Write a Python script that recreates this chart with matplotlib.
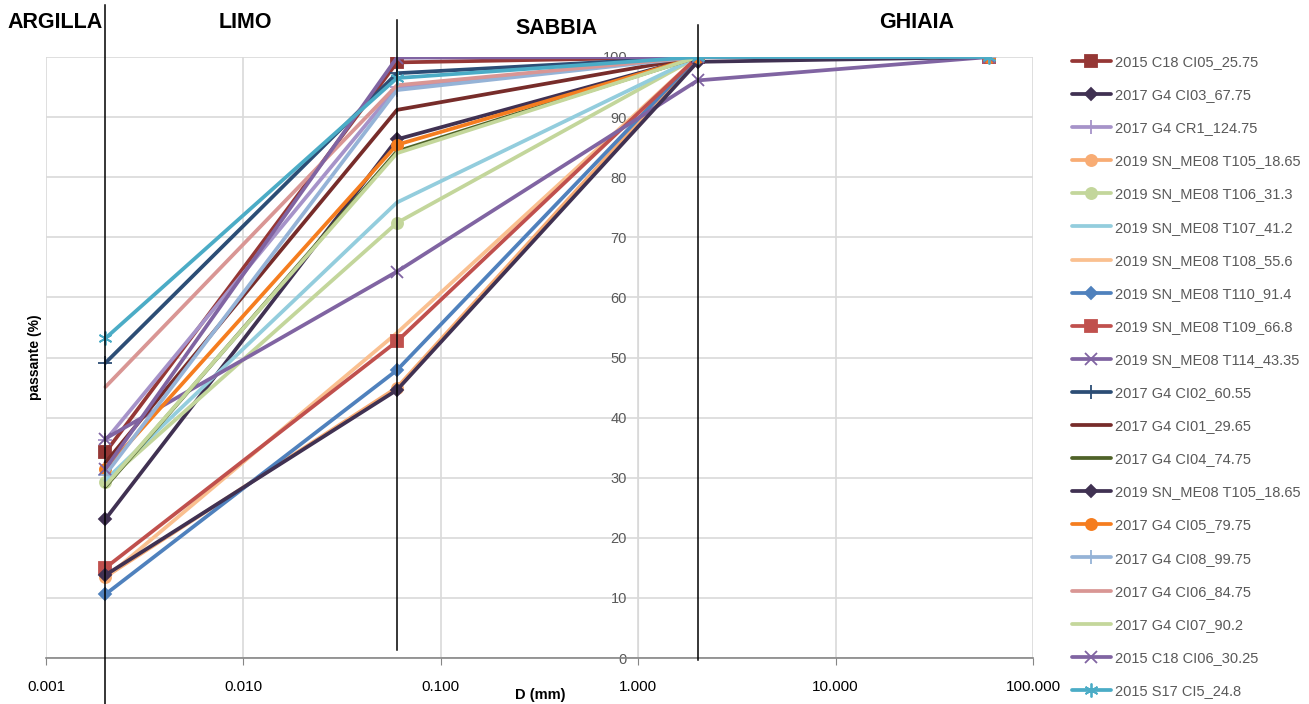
import matplotlib
matplotlib.use('Agg')
import matplotlib.pyplot as plt
import matplotlib.transforms as mtransforms

plt.rcParams['font.family'] = ['Liberation Sans', 'DejaVu Sans']

# grain sizes (mm) at which passing % was measured
diam = [0.002, 0.06, 2, 60]
# class boundaries argilla/limo/sabbia/ghiaia
limits = [0.002, 0.06, 2]

names = ['2015 C18 CI05_25.75', '2017 G4 CI03_67.75', '2017 G4 CR1_124.75',
         '2019 SN_ME08 T105_18.65', '2019 SN_ME08 T106_31.3', '2019 SN_ME08 T107_41.2',
         '2019 SN_ME08 T108_55.6', '2019 SN_ME08 T110_91.4', '2019 SN_ME08 T109_66.8',
         '2019 SN_ME08 T114_43.35', '2017 G4 CI02_60.55', '2017 G4 CI01_29.65',
         '2017 G4 CI04_74.75', '2019 SN_ME08 T105_18.65', '2017 G4 CI05_79.75',
         '2017 G4 CI08_99.75', '2017 G4 CI06_84.75', '2017 G4 CI07_90.2',
         '2015 C18 CI06_30.25', '2015 S17 CI5_24.8']

c18_ci05 = [34.2, 99.1, 100, 100]
g4_ci03 = [23.1, 86.3, 100, 100]
g4_cr1 = [36.2, 95.0, 100, 100]
t105 = [13.5, 45.0, 100, 100]
t106 = [29.3, 72.4, 100, 100]
t107 = [29.6, 75.8, 100, 100]
t108 = [13.3, 54.1, 100, 100]
t110 = [10.6, 47.9, 100, 100]
t109 = [15.0, 52.7, 100, 100]
t114 = [36.5, 64.3, 96.1, 100]
g4_ci02 = [49.1, 97.3, 100, 100]
g4_ci01 = [32.5, 91.2, 100, 100]
g4_ci04 = [28.5, 84.3, 100, 100]
t105b = [13.8, 44.6, 99.2, 100]
g4_ci05 = [31.4, 85.4, 100, 100]
g4_ci08 = [30.5, 94.5, 100, 100]
g4_ci06 = [45.1, 95.3, 100, 100]
g4_ci07 = [28.7, 84.0, 100, 100]
c18_ci06 = [31.5, 99.9, 100, 100]
s17_ci5 = [53.2, 96.5, 100, 100]

series = [c18_ci05, g4_ci03, g4_cr1, t105, t106, t107, t108, t110, t109, t114,
          g4_ci02, g4_ci01, g4_ci04, t105b, g4_ci05, g4_ci08, g4_ci06, g4_ci07,
          c18_ci06, s17_ci5]

colors = ['#953735', '#403152', '#A693C9', '#F8AC74', '#C3D69B', '#93CDDD',
          '#FAC090', '#4F81BD', '#C0504D', '#8064A2', '#2C4D75', '#772C2A',
          '#4F6228', '#403152', '#F57D1F', '#95B3D7', '#D99694', '#C4D79B',
          '#8064A2', '#4BACC6']
markers = ['s', 'D', '+', 'o', 'o', None, None, 'D', 's', 'x',
           '+', None, None, 'D', 'o', '+', None, None, 'x', (6, 2, 0)]
msizes = [8, 6, 10, 8, 8, 0, 0, 6, 8, 9, 10, 0, 0, 6, 8, 10, 0, 0, 9, 10]

fig = plt.figure(figsize=(13.09, 7.04), dpi=100)
ax = fig.add_axes([46/1309, 1-658/704, (1033-46)/1309, (658-57)/704])

for vals, name, c, m, ms in zip(series, names, colors, markers, msizes):
    ax.plot(diam, vals, color=c, lw=2.7, marker=m, ms=ms, mew=1.3,
            mfc=c, mec=c, label=name, solid_capstyle='round', zorder=3)

ax.set_xscale('log')
ax.set_xlim(0.001, 100)
ax.set_ylim(0, 100)
ax.set_xticks([0.001, 0.01, 0.1, 1, 10, 100])
ax.set_xticklabels(['0.001', '0.010', '0.100', '1.000', '10.000', '100.000'])
ax.minorticks_off()
ax.set_yticks(range(0, 101, 10))
ax.grid(True, color='#D9D9D9', lw=1.2)
ax.set_axisbelow(True)
for s in ['top', 'right']:
    ax.spines[s].set_visible(False)
ax.spines['left'].set_position(('data', 1))
ax.spines['left'].set_color('#D9D9D9')
ax.spines['bottom'].set_color('#868686')
ax.spines['bottom'].set_linewidth(1.2)
ax.tick_params(axis='x', length=5, labelsize=11, pad=11,
               colors='#868686', labelcolor='#000000')
ax.tick_params(axis='y', length=0, labelsize=10.5, labelcolor='#595959', pad=8)

# vertical class boundary lines
trans = mtransforms.blended_transform_factory(ax.transData, ax.transAxes)
spans = [(-0.08, 1.087), (0.013, 1.062), (-0.004, 1.053)]
for xv, (y0, y1) in zip(limits, spans):
    ax.plot([xv, xv], [y0, y1], color='black', lw=1.1, transform=trans,
            clip_on=False, zorder=5)

lab = dict(fontsize=15.5, fontweight='bold', ha='center', va='center',
           family=['Liberation Sans Narrow', 'Liberation Sans', 'DejaVu Sans'])
fig.text(55/1309, 1-22/704, 'ARGILLA', **lab)
fig.text(245/1309, 1-22/704, 'LIMO', **lab)
fig.text(557/1309, 1-28/704, 'SABBIA', **lab)
fig.text(917/1309, 1-22/704, 'GHIAIA', **lab)

fig.text(35/1309, 1-357/704, 'passante (%)', rotation=90, ha='center', va='center',
         fontsize=10, fontweight='bold')
fig.text(540/1309, 1-695/704, 'D (mm)', ha='center', va='center',
         fontsize=10.5, fontweight='bold')

fig.legend(loc='upper left', bbox_to_anchor=(1072/1309, 1-55/704), frameon=False,
           fontsize=10.5, labelcolor='#595959', handlelength=2.65, handletextpad=0.3,
           labelspacing=1.31, borderaxespad=0, borderpad=0)

fig.savefig('out.png', dpi=100)
